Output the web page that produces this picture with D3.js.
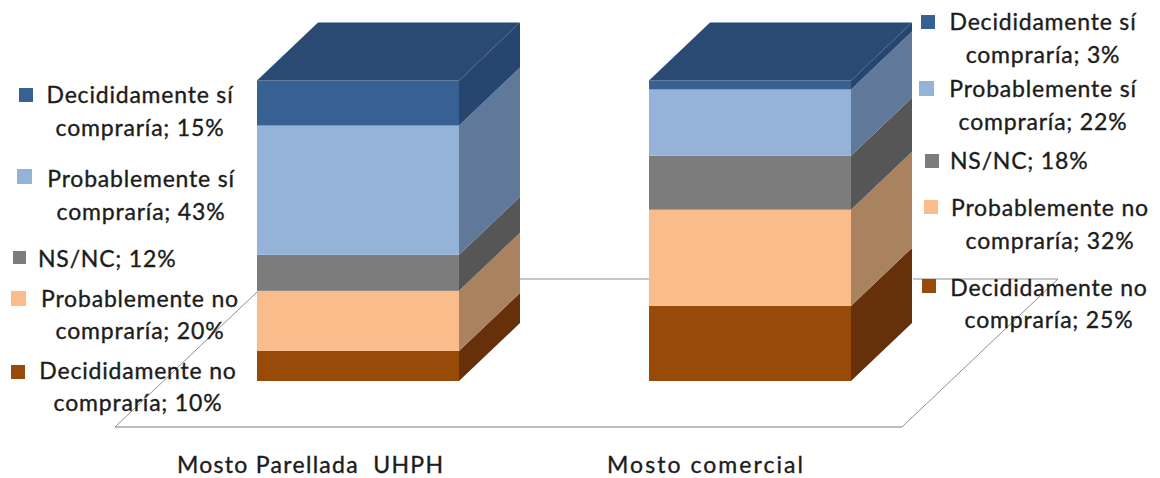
<!DOCTYPE html>
<html lang="es">
<head>
<meta charset="utf-8">
<script src="https://cdnjs.cloudflare.com/ajax/libs/d3/7.8.5/d3.min.js"></script>
<style>
  html, body { margin: 0; padding: 0; background: #fff; }
  svg { display: block; }
  text { font-family: Lato, "Open Sans", sans-serif; fill: #1c1c1c; stroke: #1c1c1c; stroke-width: 0.35px; }
</style>
</head>
<body>
<svg id="chart" width="1160" height="478"></svg>
<script>
// Purchase intention by must type, stacked to 100 %.
const categories = ["Mosto Parellada  UHPH", "Mosto comercial"];
const responses = ["Decididamente no compraría", "Probablemente no compraría", "NS/NC", "Probablemente sí compraría", "Decididamente sí compraría"];
const parelladaValues = [10, 20, 12, 43, 15];
const comercialValues = [25, 32, 18, 22, 3];

const frontColors = ["#984a08", "#fbbc8b", "#7c7c7c", "#95b3d8", "#376093"];
const sideColors = ["#65300a", "#a9825f", "#565656", "#607899", "#26466f"];
const topColor = "#2a4a74";

const svg = d3.select("#chart");

// Scales for the front face of each column; the depth is a fixed oblique offset.
const x = d3.scaleOrdinal().domain(categories).range([257, 649]);
const barWidth = 202;
const y = d3.scaleLinear().domain([0, 100]).range([381, 80.5]);
const depth = { dx: 61, dy: -58 };

// Floor of the 3D plot
const floorLine = d3.line();
const floor = svg.append("g").attr("fill", "none");
floor.append("path").attr("d", floorLine([[115, 427], [902, 427]])).attr("stroke", "#bdbdbd").attr("stroke-width", 2);
floor.append("path").attr("d", floorLine([[115, 427], [257, 292]])).attr("stroke", "#8f8f8f").attr("stroke-width", 1);
floor.append("path").attr("d", floorLine([[902, 427], [1058, 279]])).attr("stroke", "#8f8f8f").attr("stroke-width", 1);
floor.append("path").attr("d", floorLine([[520, 279], [649, 279]])).attr("stroke", "#8f8f8f").attr("stroke-width", 1);
floor.append("path").attr("d", floorLine([[913, 279], [1058, 279]])).attr("stroke", "#8f8f8f").attr("stroke-width", 1);

// Columns: a front rectangle and a side wall per segment, then one top face.
const polygon = pts => "M" + pts.map(p => p.join(",")).join("L") + "Z";
const series = [parelladaValues, comercialValues];

categories.forEach((cat, c) => {
  const g = svg.append("g");
  const left = x(cat), right = left + barWidth;
  const stacked = d3.cumsum(series[c]);
  const segments = series[c].map((v, i) => ({ i, from: stacked[i] - v, to: stacked[i] }));

  g.selectAll("path.side").data(segments).join("path")
    .attr("class", "side")
    .attr("fill", d => sideColors[d.i])
    .attr("d", d => polygon([
      [right, y(d.from)], [right + depth.dx, y(d.from) + depth.dy],
      [right + depth.dx, y(d.to) + depth.dy], [right, y(d.to)]
    ]));

  g.selectAll("rect.front").data(segments).join("rect")
    .attr("class", "front")
    .attr("x", left)
    .attr("width", barWidth)
    .attr("y", d => y(d.to))
    .attr("height", d => y(d.from) - y(d.to))
    .attr("fill", d => frontColors[d.i]);

  g.append("path").attr("fill", topColor).attr("d", polygon([
    [left, y(100)], [left + depth.dx, y(100) + depth.dy],
    [right + depth.dx, y(100) + depth.dy], [right, y(100)]
  ]));
});

// Data labels with their colour keys, placed around the columns.
const labelLayout = [
  [ // first column, bottom segment first
    { sx: 11, sy: 365, s: 14, cx: 138, l1: 379, l2: 411 },
    { sx: 11, sy: 291, s: 15, cx: 140, l1: 307, l2: 339 },
    { sx: 13, sy: 251, s: 13, sl: 38, l1: 267 },
    { sx: 17, sy: 169, s: 15, cx: 141, l1: 187, l2: 220 },
    { sx: 19, sy: 88, s: 14, cx: 140, l1: 103, l2: 136 }
  ],
  [ // second column
    { sx: 922, sy: 279, s: 14, cx: 1049, l1: 296, l2: 328 },
    { sx: 924, sy: 200, s: 14, cx: 1050, l1: 216, l2: 249 },
    { sx: 925, sy: 154, s: 14, sl: 950, l1: 169 },
    { sx: 919, sy: 81, s: 15, cx: 1043, l1: 97, l2: 130 },
    { sx: 921, sy: 15, s: 14, cx: 1043, l1: 30, l2: 63 }
  ]
];

categories.forEach((cat, c) => {
  const g = svg.append("g").attr("font-size", 23).attr("letter-spacing", 0.8);
  responses.forEach((name, i) => {
    const pos = labelLayout[c][i];
    g.append("rect")
      .attr("x", pos.sx).attr("y", pos.sy)
      .attr("width", pos.s).attr("height", pos.s)
      .attr("fill", frontColors[i]);
    const text = `${name}; ${series[c][i]}%`;
    if (pos.l2 === undefined) {
      g.append("text").attr("x", pos.sl).attr("y", pos.l1).text(text);
    } else {
      const cut = name.lastIndexOf(" ");
      g.append("text").attr("x", pos.cx).attr("y", pos.l1).attr("text-anchor", "middle").text(name.slice(0, cut));
      g.append("text").attr("x", pos.cx).attr("y", pos.l2).attr("text-anchor", "middle").text(`${name.slice(cut + 1)}; ${series[c][i]}%`);
    }
  });
});

// Category names under the floor, stretched to their set widths
const nameLeft = d3.scaleOrdinal().domain(categories).range([177, 607]);
const nameWidth = d3.scaleOrdinal().domain(categories).range([266, 196]);
svg.append("g").attr("font-size", 23).selectAll("text").data(categories).join("text")
  .attr("x", d => nameLeft(d))
  .attr("y", 473)
  .attr("textLength", d => nameWidth(d))
  .style("white-space", "pre")
  .text(d => d);
</script>
</body>
</html>
